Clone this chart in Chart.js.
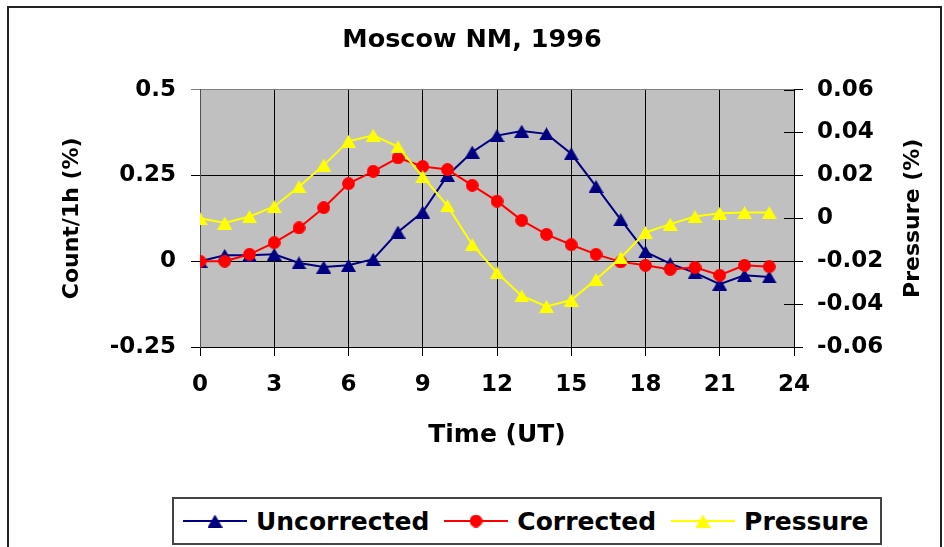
<!DOCTYPE html>
<html>
<head>
<meta charset="utf-8">
<title>Moscow NM, 1996</title>
<script src="https://cdn.jsdelivr.net/npm/chart.js@4"></script>
<style>
    body { margin: 0; background: #fff; overflow: hidden; }
    #wrap { position: relative; width: 944px; height: 547px; overflow: hidden; }
    #frame { position: absolute; left: 7px; top: 6px; width: 931px; height: 600px; border: 2px solid #222; }
    #chart { position: absolute; left: 0; top: 0; }
    #legend {
        position: absolute; left: 172px; top: 497px; width: 710px; height: 48px;
        box-sizing: border-box; border: 2px solid #444; background: #fff;
        display: flex; align-items: center; padding-left: 9px;
        font: bold 25px 'DejaVu Sans'; color: #000;
    }
    #legend .item { display: flex; align-items: center; margin-right: 15px; }
    #legend canvas { margin-right: 9px; }
</style>
</head>
<body>
<div id="wrap">
    <div id="frame"></div>
    <canvas id="chart" width="944" height="547"></canvas>
    <div id="legend"></div>
</div>
<script>
// Data (hourly, UT)
const hours = [0, 1, 2, 3, 4, 5, 6, 7, 8, 9, 10, 11, 12, 13, 14, 15, 16, 17, 18, 19, 20, 21, 22, 23];
const uncorrected = [0, 0.017, 0.017, 0.02, -0.005, -0.017, -0.012, 0.006, 0.085, 0.143, 0.25, 0.318,
    0.366, 0.379, 0.371, 0.313, 0.218, 0.121, 0.027, -0.007, -0.034, -0.067, -0.041, -0.046];
const corrected = [0, 0, 0.02, 0.054, 0.097, 0.156, 0.226, 0.262, 0.301, 0.276, 0.267, 0.221,
    0.175, 0.119, 0.078, 0.048, 0.02, -0.002, -0.012, -0.024, -0.018, -0.041, -0.012, -0.016];
const pressure = [0, -0.0022, 0.0008, 0.0055, 0.0147, 0.0248, 0.0359, 0.0387, 0.0333, 0.0194, 0.0058, -0.0123,
    -0.0254, -0.0362, -0.0411, -0.0381, -0.0285, -0.0184, -0.0066, -0.0027, 0.0008, 0.0024, 0.0027, 0.0027];

const seriesNames = ['Uncorrected', 'Corrected', 'Pressure'];
const seriesColors = ['#000080', '#ff0000', '#ffff00'];
const seriesMarkers = ['triangle', 'circle', 'triangle'];

// Tick labels
const hourTicks = [0, 3, 6, 9, 12, 15, 18, 21, 24];
const countTicks = [-0.25, 0, 0.25, 0.5];
const pressureTicks = [-0.06, -0.04, -0.02, 0, 0.02, 0.04, 0.06];
const pressureTitle = 'Pressure (%)';

Chart.defaults.font.family = "'DejaVu Sans'";
Chart.defaults.font.weight = 'bold';
Chart.defaults.color = '#000';

// Excel-like markers (box centred on the point)
function markerCanvas(type, color) {
    const c = document.createElement('canvas');
    const g = c.getContext('2d');
    if (type === 'triangle') {
        c.width = 15; c.height = 13;
        g.fillStyle = color;
        g.beginPath();
        g.moveTo(7.5, 0); g.lineTo(15, 13); g.lineTo(0, 13);
        g.closePath();
        g.fill();
    } else {
        c.width = 13; c.height = 13;
        g.fillStyle = color;
        g.beginPath();
        g.arc(6.5, 6.5, 6.4, 0, Math.PI * 2);
        g.fill();
    }
    return c;
}

function points(values) {
    return hours.map((h, i) => ({ x: h, y: values[i] }));
}

const seriesValues = [uncorrected, corrected, pressure];
const seriesAxes = ['y', 'y', 'y1'];

const datasets = seriesNames.map((name, i) => ({
    label: name,
    data: points(seriesValues[i]),
    yAxisID: seriesAxes[i],
    borderColor: seriesColors[i],
    backgroundColor: seriesColors[i],
    borderWidth: 2,
    pointStyle: markerCanvas(seriesMarkers[i], seriesColors[i]),
    pointRadius: 7,
    order: 3 - i
}));

function fixedTicks(list) {
    return scale => { scale.ticks = list.map(v => ({ value: v })); };
}

// Grey plot area
const plotBackground = {
    id: 'plotBackground',
    beforeDraw(chart) {
        const { ctx, chartArea: a } = chart;
        ctx.save();
        ctx.fillStyle = '#c0c0c0';
        ctx.fillRect(a.left, a.top, a.width, a.height);
        ctx.restore();
    }
};

// Right axis ticks also cross into the plot
const innerTicks = {
    id: 'innerTicks',
    beforeDatasetsDraw(chart) {
        const { ctx, chartArea: a } = chart;
        const scale = chart.scales.y1;
        ctx.save();
        ctx.strokeStyle = '#000';
        ctx.lineWidth = 1;
        scale.ticks.forEach(t => {
            const y = Math.round(scale.getPixelForValue(t.value)) + 0.5;
            ctx.beginPath();
            ctx.moveTo(a.right - 10, y);
            ctx.lineTo(a.right, y);
            ctx.stroke();
        });
        ctx.restore();
    }
};

// Right axis title reads bottom-to-top, like the left one
const rightTitle = {
    id: 'rightTitle',
    afterDraw(chart) {
        const { ctx, chartArea: a } = chart;
        const scale = chart.scales.y1;
        ctx.save();
        ctx.translate(scale.right - 31, (a.top + a.bottom) / 2);
        ctx.rotate(-Math.PI / 2);
        ctx.font = "bold 22px 'DejaVu Sans'";
        ctx.fillStyle = '#000';
        ctx.textAlign = 'center';
        ctx.textBaseline = 'middle';
        ctx.fillText(pressureTitle, 0, 0);
        ctx.restore();
    }
};

new Chart(document.getElementById('chart'), {
    type: 'line',
    data: { datasets },
    options: {
        responsive: false,
        animation: false,
        events: [],
        devicePixelRatio: 1,
        layout: { padding: { top: 0, left: 0, right: 0, bottom: 90 } },
        plugins: {
            legend: { display: false },
            tooltip: { enabled: false },
            title: {
                display: true,
                text: 'Moscow NM, 1996',
                font: { size: 25.5, weight: 'bold' },
                color: '#000',
                padding: { top: 25, bottom: 34 }
            }
        },
        scales: {
            x: {
                type: 'linear',
                min: 0,
                max: 24,
                afterBuildTicks: fixedTicks(hourTicks),
                afterFit: s => { s.height = 110; },
                ticks: { font: { size: 23 }, padding: 15, maxRotation: 0 },
                grid: { color: '#000', lineWidth: 1, tickLength: 9 },
                border: { color: '#000', width: 1 },
                title: { display: true, text: 'Time (UT)', font: { size: 25 }, padding: { top: 0, bottom: 7 } }
            },
            y: {
                position: 'left',
                min: -0.25,
                max: 0.5,
                afterBuildTicks: fixedTicks(countTicks),
                afterFit: s => { s.width = 200; },
                ticks: { font: { size: 23 }, padding: 15, callback: v => String(v) },
                grid: {
                    color: c => (c.tick && c.tick.value === 0.5 ? '#808080' : '#000'),
                    lineWidth: 1,
                    tickLength: 9
                },
                border: { color: '#505050', width: 1 },
                title: { display: true, text: 'Count/1h (%)', font: { size: 22 }, padding: { top: 59, bottom: 0 } }
            },
            y1: {
                position: 'right',
                min: -0.06,
                max: 0.06,
                afterBuildTicks: fixedTicks(pressureTicks),
                afterFit: s => { s.width = 150; },
                ticks: { font: { size: 23 }, padding: 14, callback: v => String(v) },
                grid: { drawOnChartArea: false, color: '#000', tickLength: 9 },
                border: { color: '#000', width: 1 },
                title: { display: false }
            }
        }
    },
    plugins: [plotBackground, innerTicks, rightTitle]
});

// Legend box below the chart
const legend = document.getElementById('legend');
seriesNames.forEach((name, i) => {
    const item = document.createElement('div');
    item.className = 'item';
    const key = document.createElement('canvas');
    key.width = 64; key.height = 16;
    const g = key.getContext('2d');
    g.strokeStyle = seriesColors[i];
    g.lineWidth = 2;
    g.beginPath(); g.moveTo(0, 8); g.lineTo(64, 8); g.stroke();
    const m = markerCanvas(seriesMarkers[i], seriesColors[i]);
    g.drawImage(m, 32 - m.width / 2, 8 - m.height / 2);
    const label = document.createElement('span');
    label.textContent = name;
    item.appendChild(key);
    item.appendChild(label);
    legend.appendChild(item);
});
</script>
</body>
</html>
